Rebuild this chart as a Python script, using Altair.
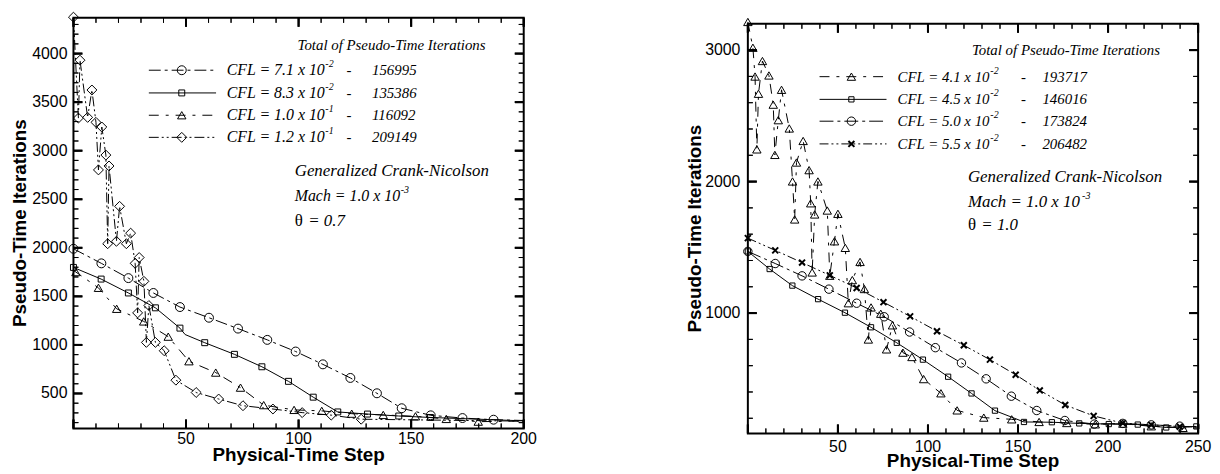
import altair as alt
import pandas as pd

SANS = "Liberation Sans"
SERIF = "Liberation Serif"

# ---------------- Left panel (theta = 0.7) ----------------
L_xdom = [0, 200]
L_ydom = [140, 4368]
L_xlabels = [50, 100, 150, 200]
L_ylabels = [500, 1000, 1500, 2000, 2500, 3000, 3500, 4000]
L_xmajor = [0, 50, 100, 150, 200]
L_xminor = list(range(0, 201, 10))
L_yminor = list(range(200, 4301, 100))

# CFL = 7.1e-2 (circles)
L_c_mx = [0, 12.4, 24.4, 35.5, 47.3, 60.2, 73.1, 86.1, 98.7, 110.8, 123.0, 134.8, 145.8, 158.7, 172.8, 186.6]
L_c_my = [1990, 1840, 1688, 1535, 1390, 1280, 1168, 1052, 932, 800, 660, 502, 348, 275, 247, 230]
L_c_lx = L_c_mx + [200]
L_c_ly = L_c_my + [222]
# CFL = 8.3e-2 (squares)
L_s_mx = [0, 12.3, 24.4, 36.4, 47.3, 58.3, 71.5, 83.7, 95.5, 106.5, 117.4, 130.6, 144.5, 158.6]
L_s_my = [1798, 1678, 1535, 1382, 1173, 1023, 903, 775, 625, 462, 310, 288, 268, 253]
L_s_lx = [0, 12.3, 24.4, 36.4, 47.3, 49.6, 58.3, 71.5, 83.7, 95.5, 106.5, 117.4, 130.6, 144.5, 158.6, 200]
L_s_ly = [1798, 1678, 1535, 1382, 1173, 1107, 1023, 903, 775, 625, 462, 310, 288, 268, 253, 218]
# CFL = 1.0e-1 (triangles)
L_t_mx = [1.1, 11.1, 19.2, 31.2, 42.1, 51.3, 63.2, 74.2, 84.5, 98.0, 110.3, 123.6, 137.6, 151.9, 165.6, 179.8]
L_t_my = [1750, 1588, 1372, 1242, 1085, 832, 715, 560, 380, 331, 321, 292, 279, 265, 238, 210]
L_t_lx = [0] + L_t_mx + [200]
L_t_ly = [1770] + L_t_my + [215]
# CFL = 1.2e-1 (diamonds)
L_d_mx = [0, 2.2, 2.9, 6.3, 8.2, 10.0, 11.1, 12.6, 14.4, 15.2, 15.8, 19.1, 20.5, 23.5, 25.4, 27.4,
          28.5, 29.2, 31.3, 32.4, 33.5, 36.4, 40.3, 45.5, 54.5, 64.5, 75.3, 88.6, 101.6, 114.5, 127.8]
L_d_my = [4375, 3336, 3932, 3343, 3625, 3292, 2802, 3244, 2955, 2042, 2843, 2067, 2427, 2042, 2151, 1840,
          1330, 1900, 1655, 1026, 1406, 1026, 940, 637, 510, 443, 374, 340, 303, 277, 235]
L_d_lx = L_d_mx + [200]
L_d_ly = L_d_my + [215]

L_cfl = ["CFL = 7.1 x 10", "CFL = 8.3 x 10", "CFL = 1.0 x 10", "CFL = 1.2 x 10"]
L_exp = ["-2", "-2", "-1", "-1"]
L_tot = ["156995", "135386", "116092", "209149"]

# ---------------- Right panel (theta = 1.0) ----------------
R_xdom = [0, 250]
R_ydom = [85, 3200]
R_xlabels = [50, 100, 150, 200, 250]
R_ylabels = [1000, 2000, 3000]
R_xmajor = [0, 50, 100, 150, 200, 250]
R_xminor = list(range(0, 251, 10))
R_yminor = list(range(200, 3201, 200))

# CFL = 4.1e-2 (triangles)
R_t_mx = [0, 2.8, 4.0, 5.0, 5.9, 8.1, 11.7, 14.1, 15.0, 16.9, 18.7, 23.0, 24.8, 26.0, 27.0, 30.7, 34.0,
          34.9, 35.7, 37.1, 38.9, 44.1, 45.5, 48.1, 50.0, 54.1, 55.8, 58.0, 62.3, 64.7, 66.9, 68.4, 73.8,
          77.0, 80.3, 86.1, 91.1, 97.6, 107.2, 116.2, 131.0, 146.5, 161.7, 177.1, 192.9, 208.2, 224.0, 241.6]
R_t_my = [3214, 3018, 2799, 2245, 2668, 2917, 2807, 2585, 2203, 2467, 2698, 2404, 2001, 1712, 2145, 2309, 2087,
          1835, 1309, 1750, 2001, 1780, 1284, 1546, 1755, 1496, 1075, 1251, 1389, 1183, 799, 1043, 995,
          724, 907, 699, 666, 498, 390, 260, 205, 192, 172, 164, 154, 159, 139, 127]
R_t_lx = R_t_mx + [250]
R_t_ly = R_t_my + [125]
# CFL = 4.5e-2 (squares)
R_s_mx = [0, 12.1, 24.7, 39.0, 53.9, 68.4, 82.7, 97.2, 111.2, 124.2, 137.2, 153.3, 168.8, 184.0, 200.4, 216.5, 232.3, 249.0]
R_s_my = [1469, 1335, 1209, 1106, 1003, 892, 774, 646, 516, 389, 258, 172, 170, 161, 156, 152, 130, 138]
R_s_lx = R_s_mx
R_s_ly = R_s_my
# CFL = 5.0e-2 (circles)
R_c_mx = [0, 15.2, 30.1, 45.0, 60.4, 75.7, 89.8, 104.1, 118.6, 132.3, 146.3, 160.4, 176.0, 192.4, 208.2, 224.0, 239.8]
R_c_my = [1469, 1377, 1283, 1182, 1075, 972, 856, 737, 621, 500, 368, 259, 183, 156, 161, 150, 140]
R_c_lx = R_c_mx + [250]
R_c_ly = R_c_my + [132]
# CFL = 5.5e-2 (crosses)
R_x_mx = [0, 15.2, 30.1, 45.5, 60.4, 75.3, 90.1, 105.0, 119.9, 134.4, 148.7, 162.1, 176.2, 192.0, 208.2, 224.0, 239.8]
R_x_my = [1570, 1477, 1384, 1287, 1191, 1083, 975, 862, 755, 646, 531, 412, 301, 218, 163, 150, 137]
R_x_lx = R_x_mx + [250]
R_x_ly = R_x_my + [133]

R_cfl = ["CFL = 4.1 x 10", "CFL = 4.5 x 10", "CFL = 5.0 x 10", "CFL = 5.5 x 10"]
R_exp = ["-2", "-2", "-2", "-2"]
R_tot = ["193717", "146016", "173824", "206482"]

XTITLE = "Physical-Time Step"
YTITLE = "Pseudo-Time Iterations"

XPATH = "M-1,-1L1,1M-1,1L1,-1"
TICK_UP = "M0,0L0,-2"
TICK_DOWN = "M0,0L0,2"
TICK_RIGHT = "M0,0L2,0"
TICK_LEFT = "M0,0L-2,0"
ONE = pd.DataFrame({"a": [0]})


def txt(s, x, y, size, style="italic", font=SERIF, align="left", weight="normal", angle=0):
    return alt.Chart(ONE).mark_text(text=s, font=font, fontSize=size, fontStyle=style, fontWeight=weight,
                                    align=align, baseline="middle", color="black", angle=angle).encode(
        x=alt.value(x), y=alt.value(y))


def rule(x1, x2, y, dash):
    kw = dict(color="black", strokeWidth=1)
    if dash:
        kw["strokeDash"] = dash
    return alt.Chart(ONE).mark_rule(**kw).encode(x=alt.value(x1), x2=alt.value(x2), y=alt.value(y))


def marker_kw(shape, size):
    if shape == "x":
        return dict(shape=XPATH, filled=False, color="black", size=size, strokeWidth=2, opacity=1)
    return dict(shape=shape, filled=False, color="black", size=size, strokeWidth=1, opacity=1)


def build_panel(W, H, top, xdom, ydom, xlabels, ylabels, xmajor, xminor, yminor, series,
                legend, notes, lab):
    xs = alt.Scale(domain=xdom, nice=False, zero=False)
    ys = alt.Scale(domain=ydom, nice=False, zero=False, range=[H, top])
    X = lambda f: alt.X(f, scale=xs, axis=None)
    Y = lambda f: alt.Y(f, scale=ys, axis=None)
    layers = []
    # tick labels, placed through the scales
    layers.append(alt.Chart(pd.DataFrame({"lx": xlabels})).mark_text(
        font=SANS, fontSize=16, color="black", align="center", baseline="top").encode(
        x=X("lx:Q"), y=alt.value(H + lab["xl"]), text=alt.Text("lx:Q", format="d")))
    layers.append(alt.Chart(pd.DataFrame({"ly": ylabels})).mark_text(
        font=SANS, fontSize=16, color="black", align="right", baseline="middle").encode(
        y=Y("ly:Q"), x=alt.value(-lab["yl"]), text=alt.Text("ly:Q", format="d")))
    # axis titles
    layers.append(txt(XTITLE, W / 2, lab["xt"], 19, style="normal", font=SANS, align="center",
                      weight="bold"))
    layers.append(txt(YTITLE, lab["yt"], (H + top) / 2, 19, style="normal", font=SANS,
                      align="center", weight="bold", angle=270))
    # data series
    for s in series:
        dl = pd.DataFrame({"x": s["lx"], "y": s["ly"], "i": list(range(len(s["lx"])))})
        kw = dict(color="black", strokeWidth=1)
        if s["dash"]:
            kw["strokeDash"] = s["dash"]
        layers.append(alt.Chart(dl).mark_line(**kw).encode(x=X("x:Q"), y=Y("y:Q"), order="i:Q"))
        dm = pd.DataFrame({"x": s["mx"], "y": s["my"]})
        layers.append(alt.Chart(dm).mark_point(**marker_kw(s["shape"], s["size"])).encode(
            x=X("x:Q"), y=Y("y:Q")))
    # legend
    lg = legend
    layers.append(txt("Total of Pseudo-Time Iterations", lg["tx"], lg["ty"], 15))
    for i, s in enumerate(series):
        y = lg["rows"][i]
        layers.append(rule(lg["l1"], lg["l2"], y, s["dash"]))
        layers.append(alt.Chart(ONE).mark_point(**marker_kw(s["shape"], s["size"])).encode(
            x=alt.value(lg["mk"]), y=alt.value(y)))
        layers.append(txt(lg["cfl"][i], lg["cx"], y, lg["cfs"]))
        layers.append(txt(lg["exp"][i], lg["ex"], y - 6, 10))
        layers.append(txt("-", lg["dx"], y, 15, align="center"))
        layers.append(txt(lg["tot"][i], lg["nx"], y, 15))
    # notes
    nt = notes
    layers.append(txt("Generalized Crank-Nicolson", nt["x"], nt["y1"], 17))
    layers.append(txt("Mach = 1.0 x 10", nt["x"], nt["y2"], nt["mfs"]))
    layers.append(txt("-3", nt["mex"], nt["y2"] - 6, 10))
    layers.append(txt("\u03b8", nt["x"], nt["y3"], 17, style="normal"))
    layers.append(txt(nt["theta"], nt["tx"], nt["y3"], 17))
    # frame
    layers.append(alt.Chart(ONE).mark_rect(filled=False, color="black", strokeWidth=2).encode(
        x=alt.value(0), x2=alt.value(W), y=alt.value(top), y2=alt.value(H)))
    # inward ticks on all four sides, drawn last, placed through the scales
    for vals, ln, wd, sz in [(xmajor, 9, 2, 81), (xminor, 5, 1, 25)]:
        dt = pd.DataFrame({"tx": vals})
        for y1, y2 in [(H, H - ln), (top, top + ln)]:
            layers.append(alt.Chart(dt).mark_rule(color="black", strokeWidth=wd).encode(
                x=X("tx:Q"), y=alt.value(y1), y2=alt.value(y2)))
        for edge, shape in [(ydom[0], TICK_UP), (ydom[1], TICK_DOWN)]:
            dp = pd.DataFrame({"px": vals, "py": [edge] * len(vals)})
            layers.append(alt.Chart(dp).mark_point(
                shape=shape, filled=False, color="black", size=sz, strokeWidth=wd, opacity=1).encode(
                x=X("px:Q"), y=Y("py:Q")))
    for vals, ln, wd, sz in [(ylabels, 9, 2, 81), (yminor, 5, 1, 25)]:
        dt = pd.DataFrame({"ty": vals})
        for x1, x2 in [(0, ln), (W, W - ln)]:
            layers.append(alt.Chart(dt).mark_rule(color="black", strokeWidth=wd).encode(
                y=Y("ty:Q"), x=alt.value(x1), x2=alt.value(x2)))
        for edge, shape in [(xdom[0], TICK_RIGHT), (xdom[1], TICK_LEFT)]:
            dp = pd.DataFrame({"qx": [edge] * len(vals), "qy": vals})
            layers.append(alt.Chart(dp).mark_point(
                shape=shape, filled=False, color="black", size=sz, strokeWidth=wd, opacity=1).encode(
                x=X("qx:Q"), y=Y("qy:Q")))
    return alt.layer(*layers).properties(width=W, height=H)


left_series = [
    dict(lx=L_c_lx, ly=L_c_ly, mx=L_c_mx, my=L_c_my, dash=[12, 4, 3, 4], shape="circle", size=81),
    dict(lx=L_s_lx, ly=L_s_ly, mx=L_s_mx, my=L_s_my, dash=None, shape="square", size=36),
    dict(lx=L_t_lx, ly=L_t_ly, mx=L_t_mx, my=L_t_my, dash=[10, 7, 3, 7], shape="triangle-up", size=72),
    dict(lx=L_d_lx, ly=L_d_ly, mx=L_d_mx, my=L_d_my, dash=[10, 3, 2, 3, 2, 3], shape="diamond", size=100),
]
right_series = [
    dict(lx=R_t_lx, ly=R_t_ly, mx=R_t_mx, my=R_t_my, dash=[10, 7, 3, 7], shape="triangle-up", size=72),
    dict(lx=R_s_lx, ly=R_s_ly, mx=R_s_mx, my=R_s_my, dash=None, shape="square", size=28),
    dict(lx=R_c_lx, ly=R_c_ly, mx=R_c_mx, my=R_c_my, dash=[14, 4, 3, 4], shape="circle", size=72),
    dict(lx=R_x_lx, ly=R_x_ly, mx=R_x_mx, my=R_x_my, dash=[9, 3, 2, 3, 2, 3], shape="x", size=36),
]

left = build_panel(
    454, 414, 0, L_xdom, L_ydom, L_xlabels, L_ylabels, L_xmajor, L_xminor, L_yminor, left_series,
    dict(tx=225.9, ty=27, rows=[52.8, 75.7, 98.2, 120.5], l1=76, l2=143.8, mk=109.2,
         cfl=L_cfl, exp=L_exp, tot=L_tot, cx=154.5, cfs=16, ex=254, dx=277.7, nx=301),
    dict(x=223.1, y1=154.2, y2=179.3, y3=205, mfs=16, mex=330, tx=236.7, theta="= 0.7"),
    dict(xl=3, yl=6, xt=441, yt=-53.5))

right = build_panel(
    454, 419, 6, R_xdom, R_ydom, R_xlabels, R_ylabels, R_xmajor, R_xminor, R_yminor, right_series,
    dict(tx=225.9, ty=32.7, rows=[59.3, 82.2, 104.2, 127.1], l1=72.3, l2=139.8, mk=104.4,
         cfl=R_cfl, exp=R_exp, tot=R_tot, cx=151, cfs=15, ex=244.5, dx=278, nx=297),
    dict(x=221.9, y1=160.4, y2=185.3, y3=209, mfs=17, mex=337, tx=235.4, theta="= 1.0"),
    dict(xl=6, yl=7.5, xt=447, yt=-53.5))

chart = alt.hconcat(left, right, spacing=226, bounds="flush").properties(
    padding={"left": 3, "top": 0, "right": 0, "bottom": 0}, background="white"
).configure_view(strokeWidth=0)

chart.save("out.html", embed_options={"renderer": "svg", "actions": False})
